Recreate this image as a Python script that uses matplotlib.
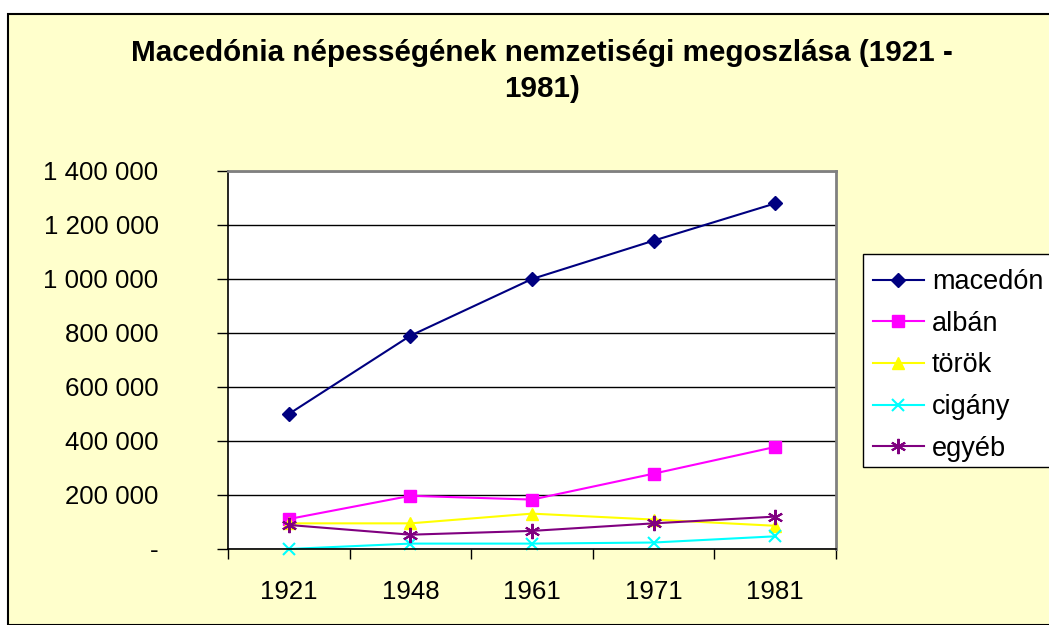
import numpy as np
import matplotlib.pyplot as plt
from matplotlib.patches import Rectangle
from matplotlib.ticker import FuncFormatter

# data
years = ['1921', '1948', '1961', '1971', '1981']
macedon = [500000, 790000, 1000000, 1142000, 1280000]
alban = [111000, 197000, 183000, 279000, 378000]
torok = [95000, 95000, 131000, 109000, 86000]
cigany = [0, 20000, 20000, 24000, 47000]
egyeb = [89000, 53000, 67000, 95000, 120000]

plt.rcParams['font.family'] = ['Liberation Sans', 'DejaVu Sans']

W, H = 1049, 625
fig = plt.figure(figsize=(W / 100, H / 100), dpi=100)
fig.patch.set_facecolor('white')
# chart area background with border
bg = Rectangle((8 / W, 0), 1.0, 1 - 14 / H, transform=fig.transFigure,
               facecolor='#FFFFCC', edgecolor='black', linewidth=1.5, zorder=-10)
fig.add_artist(bg)
# legend box (drawn separately, runs off the right edge like the original)
legbox = Rectangle((863 / W, 1 - 467 / H), 0.3, (467 - 254) / H, transform=fig.transFigure,
                   facecolor='white', edgecolor='black', linewidth=1, zorder=-5)
fig.add_artist(legbox)

ax = fig.add_axes([228 / W, 1 - 549 / H, 608 / W, 378 / H])
ax.set_facecolor('white')
ax.set_zorder(1)

x = np.arange(len(years))
series = [
    ('macedón', macedon, '#000080', 'D', 7.5),
    ('albán', alban, '#FF00FF', 's', 8.5),
    ('török', torok, '#FFFF00', '^', 8.5),
    ('cigány', cigany, '#00FFFF', 'x', 8.5),
    ('egyéb', egyeb, '#800080', (6, 2, 0), 11),
]
for name, vals, col, mk, ms in series:
    ax.plot(x, vals, color=col, marker=mk, markersize=ms, linewidth=1.5,
            markeredgewidth=1.5 if mk in ('x', (6, 2, 0)) else 1, label=name, clip_on=False)

ax.set_xlim(-0.5, len(years) - 0.5)
ax.set_ylim(0, 1400000)
ax.set_yticks(np.arange(0, 1400001, 200000))


def fmt(v, pos):
    if v == 0:
        return '-'
    return '{:,.0f}'.format(v).replace(',', ' ')


ax.yaxis.set_major_formatter(FuncFormatter(fmt))
ax.grid(axis='y', color='black', linewidth=1)
ax.set_axisbelow(True)

ax.set_xticks(x)
ax.set_xticklabels(years)
ax.set_xticks(np.arange(-0.5, len(years)), minor=True)
ax.tick_params(axis='x', which='major', length=0, pad=22, labelsize=18.6)
ax.tick_params(axis='x', which='minor', length=7, width=1, direction='out')
ax.tick_params(axis='y', length=8, width=1, direction='out', labelsize=18.6, pad=42)

ax.spines['left'].set_color('black')
ax.spines['bottom'].set_color('black')
ax.spines['left'].set_linewidth(1.2)
ax.spines['bottom'].set_linewidth(1.2)
ax.spines['top'].set_color('#808080')
ax.spines['right'].set_color('#808080')
ax.spines['top'].set_linewidth(2)
ax.spines['right'].set_linewidth(2)

fig.text(542 / W, 1 - 53 / H, 'Macedónia népességének nemzetiségi megoszlása (1921 -',
         ha='center', va='center', fontsize=21.3, fontweight='bold')
fig.text(542 / W, 1 - 89 / H, '1981)', ha='center', va='center', fontsize=21.3, fontweight='bold')

leg = ax.legend(loc='upper left', bbox_to_anchor=(873 / W, 1 - 269 / H), bbox_transform=fig.transFigure,
                fontsize=19.5, frameon=False, borderpad=0, labelspacing=0.58,
                handlelength=1.88, handletextpad=0.3, borderaxespad=0)

plt.savefig('out.png', dpi=100, facecolor=fig.get_facecolor())
